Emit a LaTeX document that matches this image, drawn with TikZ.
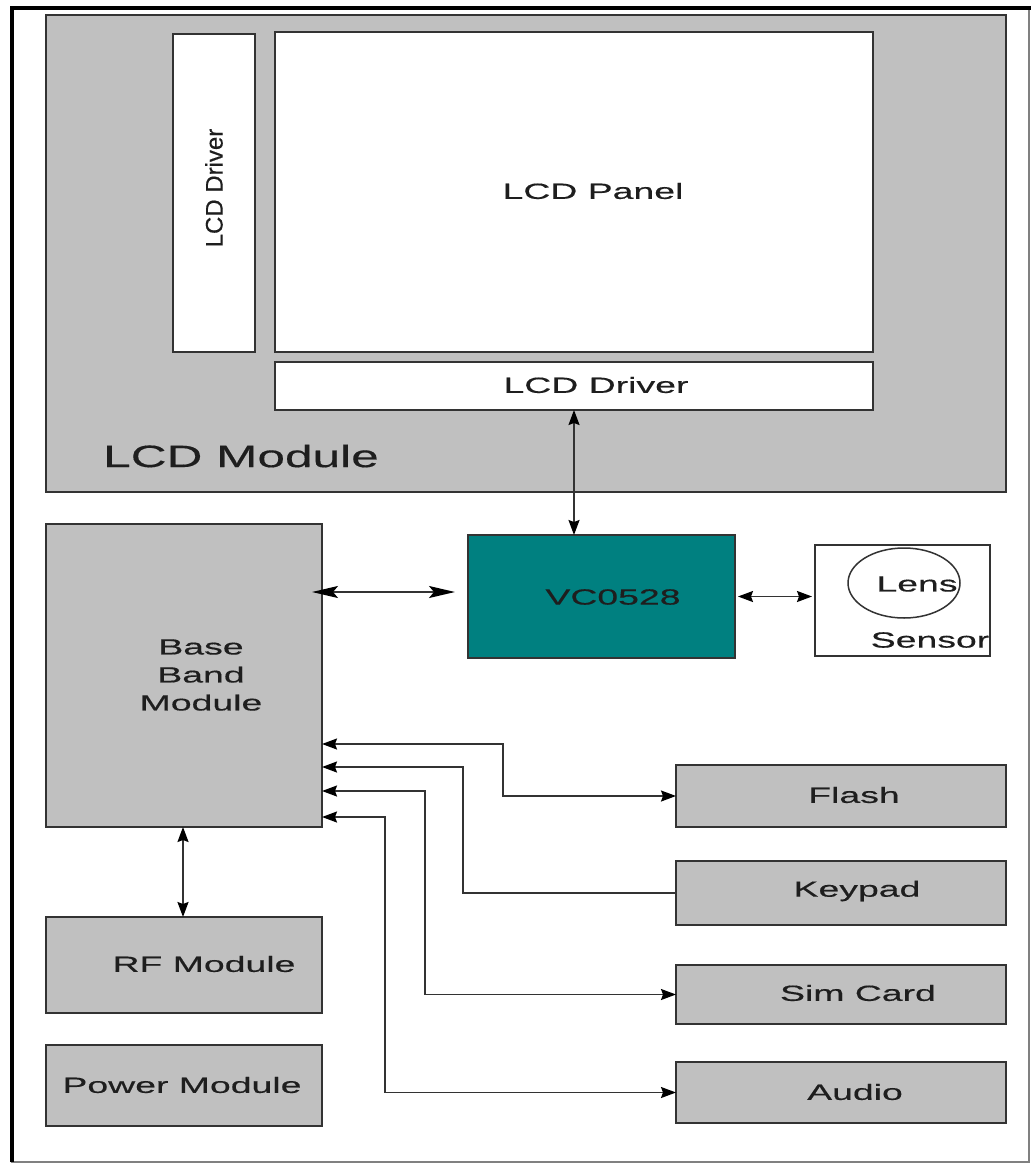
\documentclass[tikz,border=0pt]{standalone}
\usepackage{fontspec}
\setmainfont{Liberation Sans}
\newfontfamily\widefont[FakeStretch=1.7,FakeBold=0.4]{Liberation Sans}
\newfontfamily\bigwidefont[FakeStretch=1.6,FakeBold=0.4]{Liberation Sans}
\newfontfamily\vertfont[FakeBold=0.4]{Liberation Sans}
\usetikzlibrary{arrows.meta,shapes.geometric,calc}
\definecolor{boxgray}{HTML}{C0C0C0}
\definecolor{edgegray}{HTML}{333333}
\definecolor{tealc}{HTML}{008080}
\definecolor{txtc}{HTML}{1E1E1E}
\tikzset{
  box/.style={draw=edgegray, line width=2pt, fill=boxgray, inner sep=0pt, outer sep=0pt, anchor=north west},
  wbox/.style={box, fill=white},
  lbl/.style={text=txtc, font=\widefont\fontsize{22}{28}\selectfont, inner sep=0pt, align=center},
  conn/.style={draw=edgegray, line width=1.7pt},
  hd/.tip={Stealth[length=15pt,width=11pt,inset=2pt,color=black]},
  bighd/.tip={Stealth[length=26pt,width=12pt,inset=5pt,color=black]}
}
\begin{document}
\begin{tikzpicture}[x=1pt,y=-1pt]
\useasboundingbox (0,0) rectangle (1032,1164);
% outer frame
\draw[draw=gray, line width=1.5pt, fill=white] (12,8) rectangle (1029,1162);
\draw[black, line width=4.5pt] (12,1162) -- (12,8) -- (1031,8);

% LCD module
\node[box, minimum width=960, minimum height=477] (lcdm) at (46,15) {};
\node[wbox, minimum width=82, minimum height=318] (vdrv) at (173,34) {};
\node[wbox, minimum width=598, minimum height=320] (panel) at (275,32) {};
\node[wbox, minimum width=598, minimum height=48] (hdrv) at (275,362) {};
\node[lbl] (panelt) at (593,191) {LCD Panel};
\node[lbl] (hdrvt) at (596,385) {LCD Driver};
\node[text=txtc, inner sep=0pt, rotate=90, font=\vertfont\fontsize{24}{28}\selectfont] (vdrvt) at (214,188) {LCD Driver};
\node[text=txtc, inner sep=0pt, font=\bigwidefont\fontsize{31}{36}\selectfont] (lcdmt) at (241,456) {LCD Module};

% VC0528 and sensor
\node[box, fill=tealc, minimum width=267, minimum height=123] (vc) at (468,535) {};
\node[lbl] (vct) at (613,597) {VC0528};
\node[wbox, line width=1.6pt, minimum width=175, minimum height=111] (sens) at (815,545) {};
\node[ellipse, draw=edgegray, line width=1.5pt, minimum width=112, minimum height=70, inner sep=0pt] (lens) at (904,583) {};
\node[lbl] (lenst) at (917,584) {Lens};
\node[lbl] (senst) at (930,640) {Sensor};

% left column
\node[box, minimum width=276, minimum height=303] (bb) at (46,524) {};
\node[lbl] (bbt) at (201,675) {Base\\Band\\Module};
\node[box, minimum width=276, minimum height=96] (rf) at (46,917) {};
\node[lbl] (rft) at (204,964) {RF Module};
\node[box, minimum width=276, minimum height=81] (pwr) at (46,1045) {};
\node[lbl] (pwrt) at (182,1085) {Power Module};

% right column
\node[box, minimum width=330, minimum height=62] (flash) at (676,765) {};
\node[lbl] (flasht) at (854,795) {Flash};
\node[box, minimum width=330, minimum height=64] (keypad) at (676,861) {};
\node[lbl] (keypadt) at (857,891) {Keypad};
\node[box, minimum width=330, minimum height=59] (sim) at (676,965) {};
\node[lbl] (simt) at (858,993) {Sim Card};
\node[box, minimum width=330, minimum height=61] (audio) at (676,1062) {};
\node[lbl] (audiot) at (855,1092) {Audio};

% helper coordinates
\coordinate (ybv) at (0,592);
\coordinate (xbr) at (183,0);
\coordinate (y1) at (0,744);
\coordinate (y2) at (0,767);
\coordinate (y3) at (0,791);
\coordinate (y4) at (0,817);

% connectors
\draw[conn, hd-hd] (hdrv.south) -- (hdrv.south |- vc.north);
\draw[conn, bighd-bighd, shorten <=-10pt, shorten >=13pt] (bb.east |- ybv) -- (vc.west |- ybv);
\draw[conn, hd-hd, shorten <=3pt, shorten >=3pt] (vc.east) -- (vc.east -| sens.west);
\draw[conn, hd-hd] (bb.south -| xbr) -- (rf.north -| xbr);
\draw[conn, hd-hd] (bb.east |- y1) -- ++(181,0) |- (flash.west);
\draw[conn, hd-] (bb.east |- y2) -- ++(141,0) |- (keypad.west);
\draw[conn, hd-hd] (bb.east |- y3) -- ++(103,0) |- (sim.west);
\draw[conn, hd-hd] (bb.east |- y4) -- ++(63,0) |- (audio.west);
\end{tikzpicture}
\end{document}
